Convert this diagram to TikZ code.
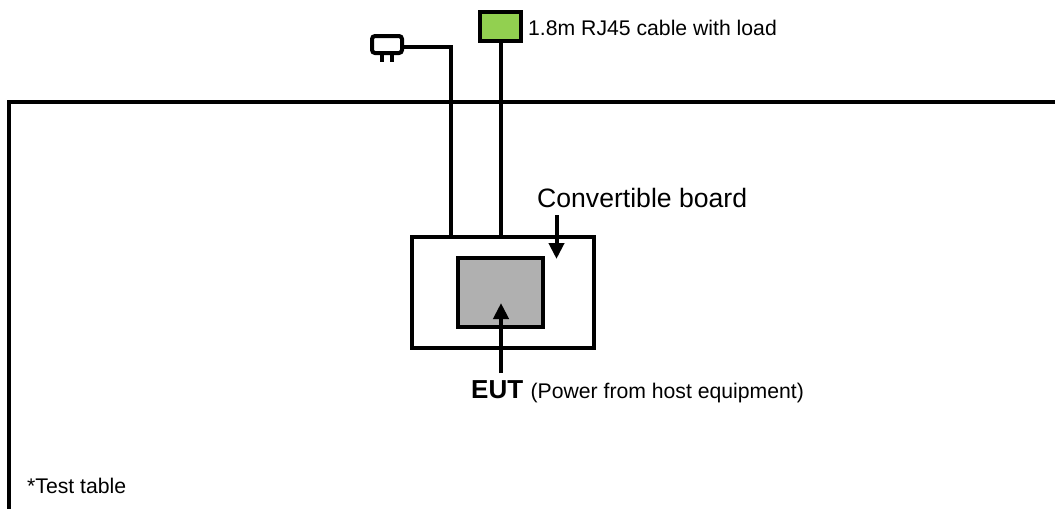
\documentclass[tikz,border=0pt]{standalone}
\usepackage{fontspec}
\setmainfont{Liberation Sans}
\usetikzlibrary{arrows.meta,positioning}
\definecolor{loadgreen}{HTML}{92D050}
\definecolor{eutgray}{HTML}{B0B0B0}

\begin{document}
\begin{tikzpicture}[x=1pt,y=-1pt,box/.style={draw,line width=4pt,minimum width=#1,inner sep=0pt,outer sep=0pt},line/.style={line width=4pt},arr/.style={line width=4pt,-{Triangle[length=16pt,width=15pt]}},lbl/.style={inner sep=0pt,anchor=base west}]
\useasboundingbox (0,0) rectangle (1055,509);
\draw[line] (1055,102)-|(9,509);
\node[box=182pt,minimum height=111pt] (board) at (503,292.5) {};
\node[box=85pt,minimum height=69pt,fill=eutgray] (eut) at (500.5,292.5) {};
\node[box=41pt,minimum height=29pt,fill=loadgreen] (load) at (500.5,26.5) {};
\node[box=30pt,minimum height=17pt,rounded corners=3pt,fill=white] (plug) at (387,44.5) {};
\draw[line width=4pt] ([xshift=-5pt]plug.south)--++(0,9);
\draw[line width=4pt] ([xshift=5pt]plug.south)--++(0,9);
\draw[line] (plug.east|-0,47)-|(451,237);
\draw[line] (load.south)--(load.south|-board.north);
\node[lbl,font=\fontsize{21.2pt}{24pt}\selectfont] (cable) at (528,35) {1.8m RJ45 cable with load};
\node[lbl,font=\fontsize{26.6pt}{30pt}\selectfont] (conv) at (537,207) {Convertible board};
\node[lbl,font=\fontsize{26pt}{30pt}\selectfont\bfseries] (euttxt) at (471,398) {EUT};
\node[lbl,font=\fontsize{21.2pt}{24pt}\selectfont,right=7pt of euttxt.base east,anchor=base west] (power) {(Power from host equipment)};
\node[lbl,font=\fontsize{21.2pt}{24pt}\selectfont] (table) at (27,493) {*Test table};
\coordinate (convfoot) at (556.5,215);
\coordinate (convtip) at (556.5,259);
\coordinate (eutfoot) at (501,373);
\coordinate (euttip) at (501,303);
\draw[arr] (convfoot)--(convtip);
\draw[arr] (eutfoot)--(euttip);
\end{tikzpicture}
\end{document}
